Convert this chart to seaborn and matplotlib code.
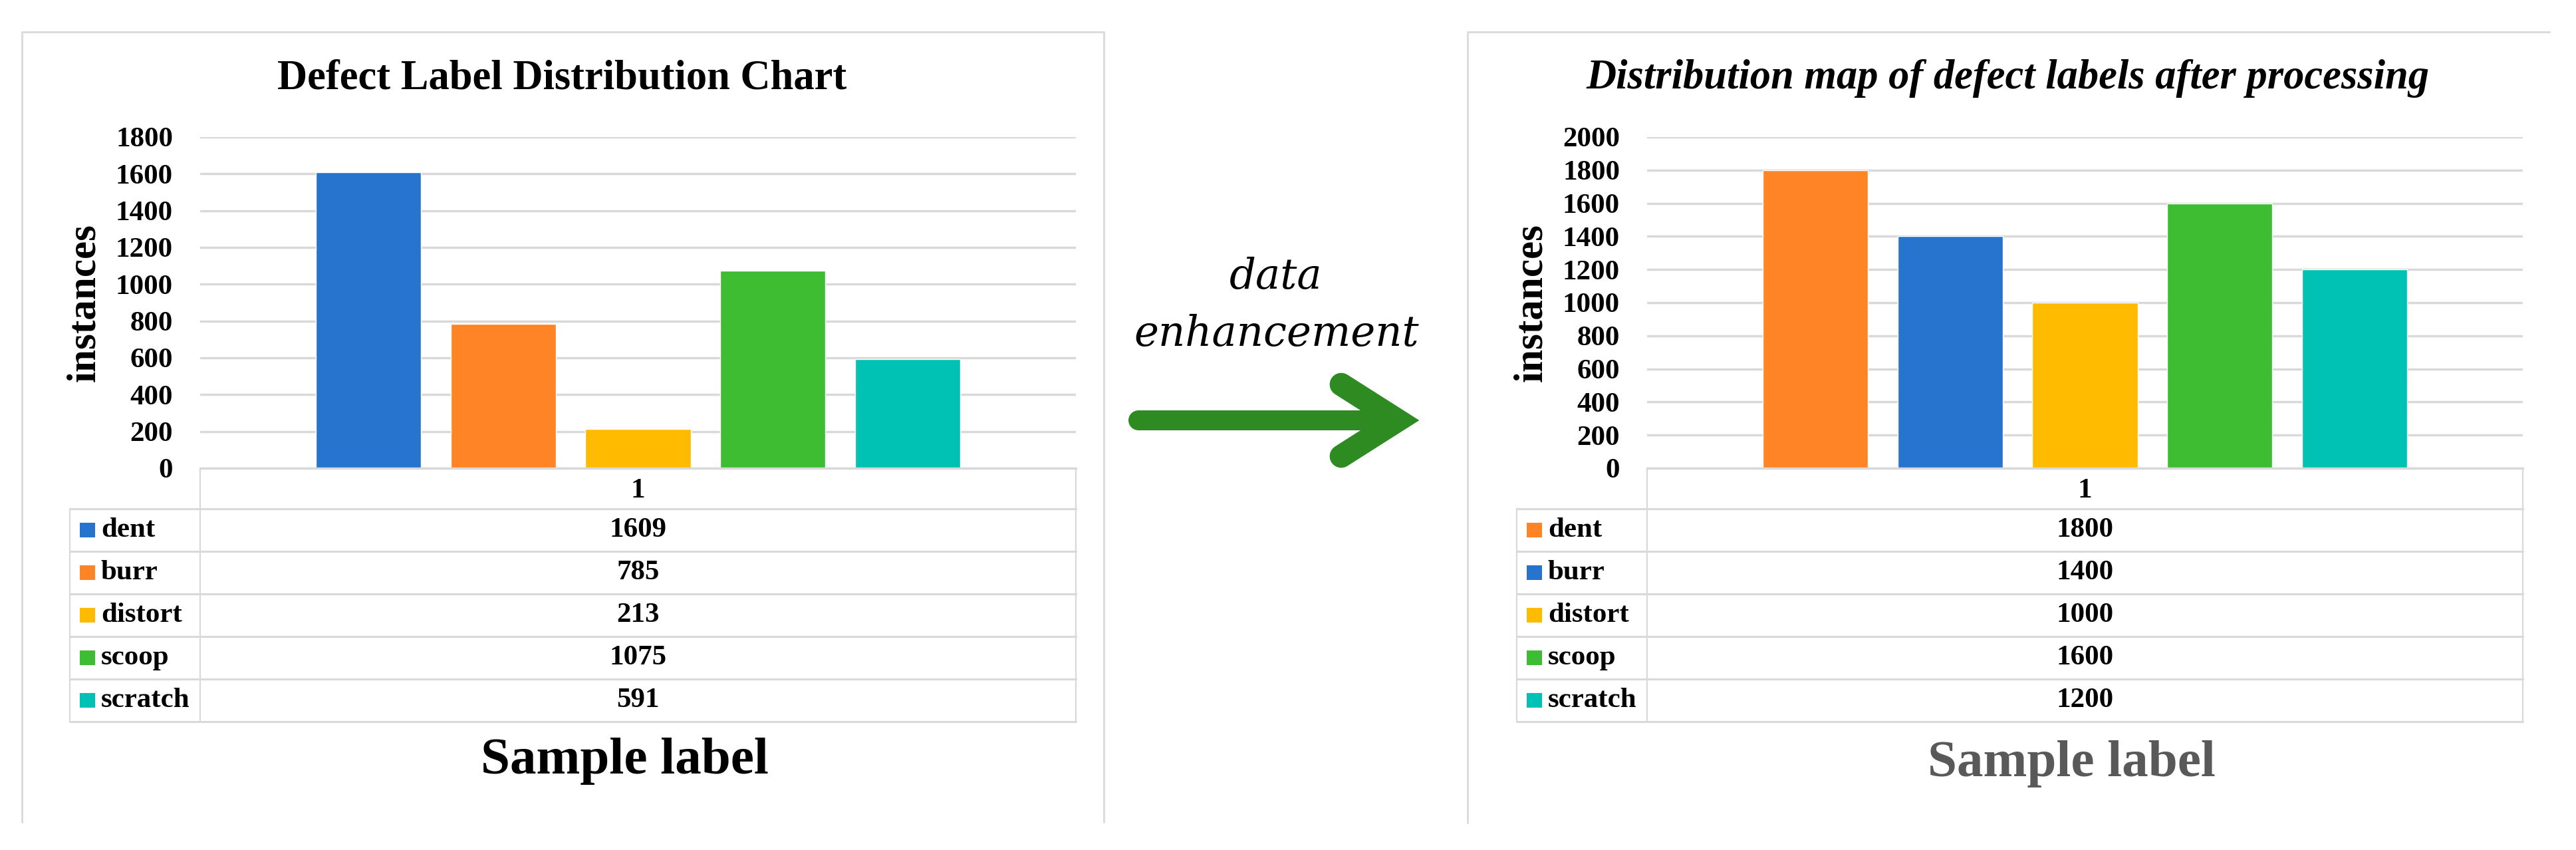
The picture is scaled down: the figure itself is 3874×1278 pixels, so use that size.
import matplotlib.pyplot as plt
import pandas as pd
import seaborn as sns
from matplotlib.patches import Rectangle

# chart data
labels = ["dent", "burr", "distort", "scoop", "scratch"]
sample_ids = ["1"]
before_counts = [1609, 785, 213, 1075, 591]
after_counts = [1800, 1400, 1000, 1600, 1200]
before_colors = ["#2674cd", "#fe8426", "#ffbb00", "#3fbd32", "#00c2b4"]
after_colors = ["#fe8426", "#2674cd", "#ffbb00", "#3fbd32", "#00c2b4"]
before_ticks = [0, 200, 400, 600, 800, 1000, 1200, 1400, 1600, 1800]
after_ticks = [0, 200, 400, 600, 800, 1000, 1200, 1400, 1600, 1800, 2000]
before_title = "Defect Label Distribution Chart"
after_title = "Distribution map of defect labels after processing"
arrow_words = ["data", "enhancement"]

W, H = 3874, 1278
GRID = "#d9d9d9"
FRAME = "#dcdcdc"
GREEN = "#2e8b22"

sns.set_style("white")
plt.rcParams["font.family"] = ["Liberation Serif", "DejaVu Serif"]
plt.rcParams["text.color"] = "black"
plt.rcParams["axes.labelcolor"] = "black"
plt.rcParams["xtick.color"] = "black"
plt.rcParams["ytick.color"] = "black"

fig = plt.figure(figsize=(W / 100, H / 100), dpi=100)

# overlay in pixel space for frames, data table and the arrow
over = fig.add_axes([0, 0, 1, 1])
over.set_xlim(0, W)
over.set_ylim(H, 0)
over.axis("off")


def px_axes(x0, y0, x1, y1):
    return fig.add_axes([x0 / W, 1 - y1 / H, (x1 - x0) / W, (y1 - y0) / H])


def draw_panel(x_axis, counts, colors, ticks, title, title_x, title_style, xlabel_color, xlabel_y):
    x_right = x_axis + 1317
    ax = px_axes(x_axis, 206, x_right, 704)
    ax.patch.set_alpha(0)

    df = pd.DataFrame({"sample": sample_ids * len(labels), "label": labels, "count": counts})
    sns.barplot(data=df, x="sample", y="count", hue="label", hue_order=labels,
                palette=colors, saturation=1, width=0.77, gap=0.22, legend=False, ax=ax)

    ax.set_xlim(-0.5, 0.5)
    ax.set_ylim(0, ticks[-1])
    ax.set_yticks(ticks)
    ax.set_yticklabels([str(t) for t in ticks], fontsize=31, fontweight="bold")
    ax.tick_params(axis="y", length=0, pad=29.5)
    ax.tick_params(axis="x", length=0, pad=11, labelsize=31)
    for t in ax.get_xticklabels():
        t.set_fontweight("bold")
    ax.grid(axis="y", color=GRID, linewidth=2.5)
    ax.set_axisbelow(True)
    for side in ["left", "right", "top"]:
        ax.spines[side].set_visible(False)
    ax.spines["bottom"].set_color(GRID)
    ax.spines["bottom"].set_linewidth(2.5)
    ax.set_xlabel("")
    ax.set_ylabel("instances", fontsize=44, fontweight="bold")
    ax.yaxis.set_label_coords(-0.111, 0.5)

    over.text(title_x, 118, title, ha="center", va="center", fontsize=45,
              fontweight="bold", fontstyle=title_style)

    # data table under the axis
    t_left, t_div = x_axis - 196, x_axis
    top, row_h = 765, 64
    n = len(labels)
    for x in [t_div, x_right]:
        over.plot([x, x], [704, top], color=GRID, lw=1.6)
    for x in [t_left, t_div, x_right]:
        over.plot([x, x], [top, top + n * row_h], color=GRID, lw=1.6)
    for i in range(n + 1):
        over.plot([t_left, x_right], [top + i * row_h] * 2, color=GRID, lw=2.2)
    for i, (lab, val, col) in enumerate(zip(labels, counts, colors)):
        yc = top + (i + 0.5) * row_h
        over.add_patch(Rectangle((t_left + 15, yc - 11), 23, 22, color=col, lw=0))
        over.text(t_left + 47, yc, lab, ha="left", va="center", fontsize=31, fontweight="bold")
        over.text((t_div + x_right) / 2, yc, str(val), ha="center", va="center",
                  fontsize=31, fontweight="bold")

    over.text((x_axis + x_right) / 2 - 20, xlabel_y, "Sample label", ha="center", va="center",
              fontsize=57, fontweight="bold", color=xlabel_color)


# panel frames
over.plot([33, 33, 1660, 1660], [1236, 48, 48, 1236], color=FRAME, lw=2.2)
over.plot([2207, 2207, 3834], [1237, 48, 48], color=FRAME, lw=2.2)

draw_panel(301, before_counts, before_colors, before_ticks, before_title, 845, "normal", "black", 1144)
draw_panel(2477, after_counts, after_colors, after_ticks, after_title, 3019, "italic", "#595959", 1149)

# arrow between the panels
over.plot([1712, 2100], [632, 632], color=GREEN, lw=21.6, solid_capstyle="round")
over.plot([2017, 2102, 2017], [578, 632, 686], color=GREEN, lw=25,
          solid_joinstyle="miter", solid_capstyle="round")
over.text(1919, 417, arrow_words[0], ha="center", va="center", fontsize=45,
          fontstyle="italic", color="black", family=["DejaVu Serif"])
over.text(1920, 503, arrow_words[1], ha="center", va="center", fontsize=45,
          fontstyle="italic", color="black", family=["DejaVu Serif"])

fig.savefig("out.png", dpi=100)
